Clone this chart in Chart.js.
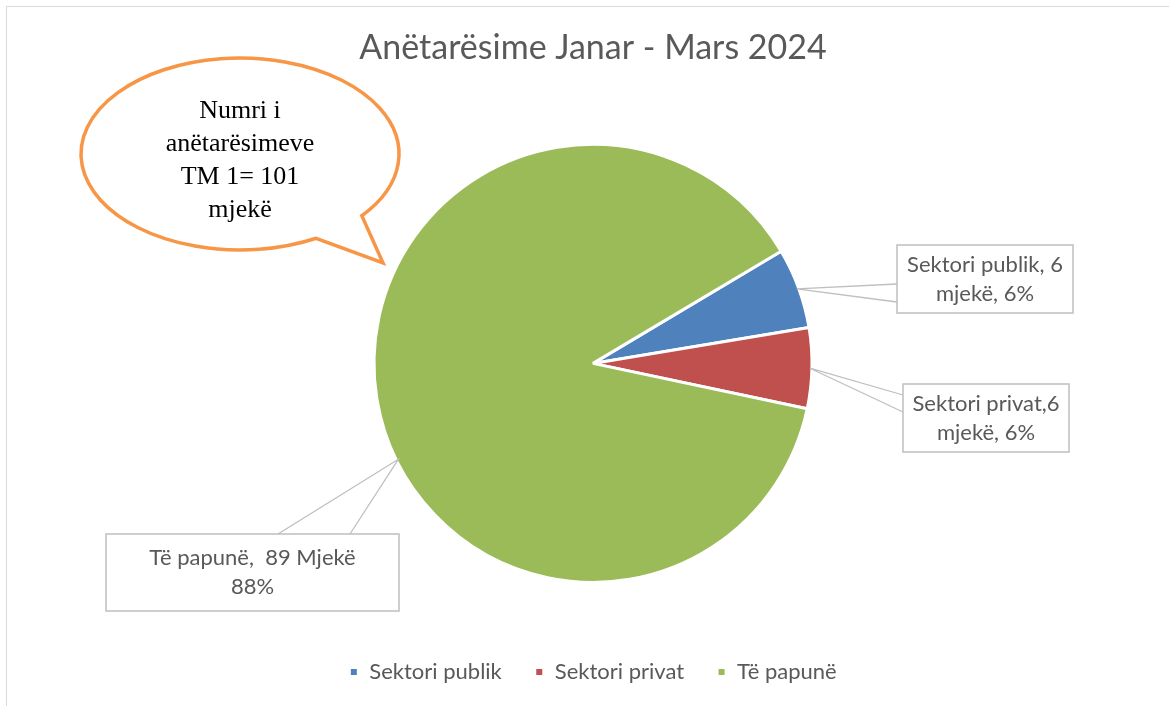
<!DOCTYPE html>
<html>
<head>
<meta charset="utf-8">
<script src="https://cdn.jsdelivr.net/npm/chart.js@4"></script>
<style>
  html, body { margin: 0; padding: 0; background: #ffffff; overflow: hidden; }
  #frame { position: absolute; left: 6px; top: 6px; width: 1300px; height: 800px;
           border-left: 1.5px solid #d9d9d9; border-top: 1.5px solid #d9d9d9; }
  #wrap { position: absolute; left: 0; top: 0; width: 1169px; height: 693px; }
</style>
</head>
<body>
<div id="frame"></div>
<div id="wrap"><canvas id="c"></canvas></div>
<script>
// ---- data ----
const chartTitle = "Anëtarësime Janar - Mars 2024";
const categories = ["Sektori publik", "Sektori privat", "Të papunë"];
const values = [6, 6, 89];
const sliceColors = ["#4F81BD", "#C0504D", "#9BBB59"];
const dataLabelLines = [
  ["Sektori publik, 6", "mjekë, 6%"],
  ["Sektori privat,6", "mjekë, 6%"],
  ["Të papunë,  89 Mjekë", "88%"]
];
const calloutLines = ["Numri i", "anëtarësimeve", "TM 1= 101", "mjekë"];

// ---- layout constants for annotations ----
const labelBoxes = [
  { x: 897, y: 245, w: 176, h: 68, anchorFrac: 0.5, attach: [[897, 284], [897, 302]] },
  { x: 903, y: 384, w: 166, h: 68, anchorFrac: 0.5, attach: [[903, 395], [903, 412]] },
  { x: 106, y: 534, w: 293, h: 77, anchorFrac: 0.447, attach: [[278, 534], [350, 534]] }
];

const annotations = {
  id: 'annotations',
  afterDraw(chart) {
    const ctx = chart.ctx;
    const meta = chart.getDatasetMeta(0);
    ctx.save();
    // data labels with leader wedges
    meta.data.forEach((arc, i) => {
      const p = arc.getProps(['x', 'y', 'startAngle', 'endAngle', 'outerRadius'], true);
      const b = labelBoxes[i];
      const a = p.startAngle + b.anchorFrac * (p.endAngle - p.startAngle);
      const ax = p.x + Math.cos(a) * (p.outerRadius - 2);
      const ay = p.y + Math.sin(a) * (p.outerRadius - 2);
      ctx.strokeStyle = '#bfbfbf';
      ctx.lineWidth = 1.3;
      ctx.beginPath();
      ctx.moveTo(b.attach[0][0], b.attach[0][1]);
      ctx.lineTo(ax, ay);
      ctx.lineTo(b.attach[1][0], b.attach[1][1]);
      ctx.stroke();
      ctx.fillStyle = '#ffffff';
      ctx.fillRect(b.x, b.y, b.w, b.h);
      ctx.strokeStyle = '#bfbfbf';
      ctx.lineWidth = 1.5;
      ctx.strokeRect(b.x, b.y, b.w, b.h);
      ctx.fillStyle = '#595959';
      ctx.font = '22px Lato, "Open Sans", sans-serif';
      ctx.textAlign = 'center';
      ctx.textBaseline = 'middle';
      const lines = dataLabelLines[i];
      const lh = 29;
      const cy = b.y + b.h / 2 - (lines.length - 1) * lh / 2;
      lines.forEach((t, k) => ctx.fillText(t, b.x + b.w / 2, cy + k * lh));
    });

    // speech-bubble callout
    const cx = 240, cy = 154, rx = 159, ry = 96;
    const a1 = 61.4 * Math.PI / 180, a2 = 40 * Math.PI / 180;
    ctx.beginPath();
    ctx.ellipse(cx, cy, rx, ry, 0, a1, a2 + 2 * Math.PI);
    ctx.lineTo(383, 263);
    ctx.closePath();
    ctx.fillStyle = '#ffffff';
    ctx.fill();
    ctx.strokeStyle = '#F79646';
    ctx.lineWidth = 3.5;
    ctx.lineJoin = 'miter';
    ctx.stroke();
    ctx.fillStyle = '#000000';
    ctx.font = '26px "Liberation Serif", "Times New Roman", serif';
    ctx.textAlign = 'center';
    ctx.textBaseline = 'alphabetic';
    calloutLines.forEach((t, k) => ctx.fillText(t, 240, 118 + k * 33));
    ctx.restore();
  }
};

new Chart(document.getElementById('c'), {
  type: 'pie',
  data: {
    labels: categories,
    datasets: [{
      data: values,
      backgroundColor: sliceColors,
      borderColor: '#ffffff',
      borderWidth: 3,
      radius: 219
    }]
  },
  options: {
    responsive: true,
    maintainAspectRatio: false,
    animation: false,
    rotation: 59.2,
    layout: { padding: { left: 17, right: 0, top: 0, bottom: 0 } },
    plugins: {
      title: {
        display: true,
        text: chartTitle,
        color: '#595959',
        font: { family: 'Lato, "Open Sans", sans-serif', size: 34, weight: 'normal' },
        padding: { top: 28, bottom: 30 }
      },
      legend: {
        display: true,
        position: 'bottom',
        labels: {
          color: '#595959',
          font: { family: 'Lato, "Open Sans", sans-serif', size: 22 },
          boxWidth: 9,
          boxHeight: 9,
          padding: 33
        }
      },
      tooltip: { enabled: false }
    }
  },
  plugins: [annotations]
});
</script>
</body>
</html>
